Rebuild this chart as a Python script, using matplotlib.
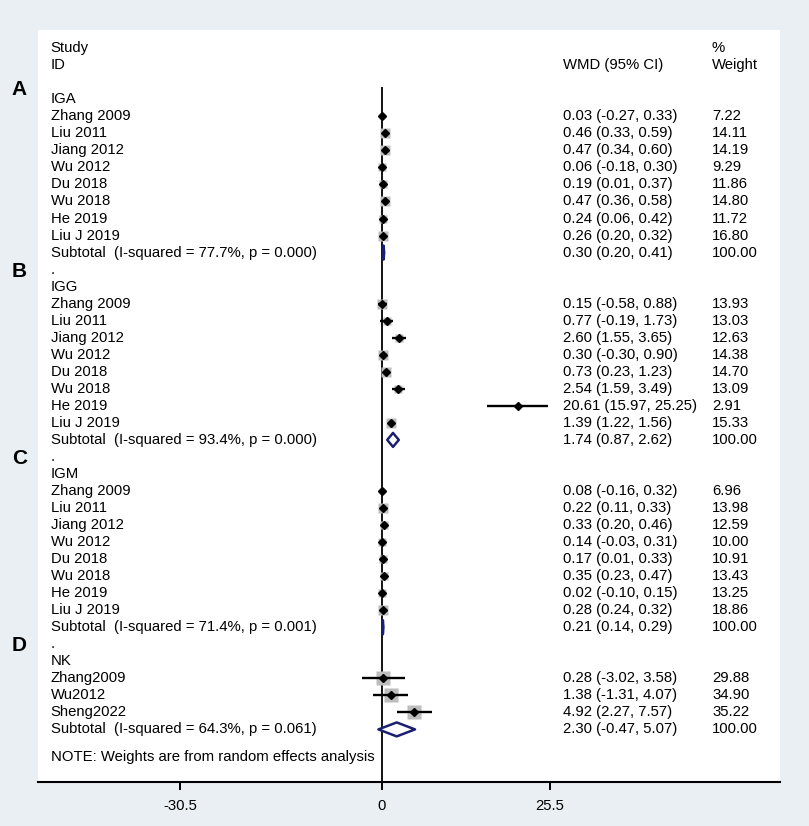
import matplotlib
matplotlib.use("Agg")
import matplotlib.pyplot as plt
from matplotlib.transforms import blended_transform_factory
import numpy as np

plt.rcParams['font.family'] = ['Liberation Sans', 'DejaVu Sans']

# ---- data ----
groups = ["IGA", "IGG", "IGM", "NK"]
panel_letters = ["A", "B", "C", "D"]

iga_studies = ["Zhang 2009", "Liu 2011", "Jiang 2012", "Wu 2012", "Du 2018", "Wu 2018", "He 2019", "Liu J 2019"]
iga_wmd = [0.03, 0.46, 0.47, 0.06, 0.19, 0.47, 0.24, 0.26]
iga_lo = [-0.27, 0.33, 0.34, -0.18, 0.01, 0.36, 0.06, 0.20]
iga_hi = [0.33, 0.59, 0.60, 0.30, 0.37, 0.58, 0.42, 0.32]
iga_weight = [7.22, 14.11, 14.19, 9.29, 11.86, 14.80, 11.72, 16.80]
iga_subtotal = [0.30, 0.20, 0.41]
iga_het = ["77.7%", "0.000"]

igg_studies = ["Zhang 2009", "Liu 2011", "Jiang 2012", "Wu 2012", "Du 2018", "Wu 2018", "He 2019", "Liu J 2019"]
igg_wmd = [0.15, 0.77, 2.60, 0.30, 0.73, 2.54, 20.61, 1.39]
igg_lo = [-0.58, -0.19, 1.55, -0.30, 0.23, 1.59, 15.97, 1.22]
igg_hi = [0.88, 1.73, 3.65, 0.90, 1.23, 3.49, 25.25, 1.56]
igg_weight = [13.93, 13.03, 12.63, 14.38, 14.70, 13.09, 2.91, 15.33]
igg_subtotal = [1.74, 0.87, 2.62]
igg_het = ["93.4%", "0.000"]

igm_studies = ["Zhang 2009", "Liu 2011", "Jiang 2012", "Wu 2012", "Du 2018", "Wu 2018", "He 2019", "Liu J 2019"]
igm_wmd = [0.08, 0.22, 0.33, 0.14, 0.17, 0.35, 0.02, 0.28]
igm_lo = [-0.16, 0.11, 0.20, -0.03, 0.01, 0.23, -0.10, 0.24]
igm_hi = [0.32, 0.33, 0.46, 0.31, 0.33, 0.47, 0.15, 0.32]
igm_weight = [6.96, 13.98, 12.59, 10.00, 10.91, 13.43, 13.25, 18.86]
igm_subtotal = [0.21, 0.14, 0.29]
igm_het = ["71.4%", "0.001"]

nk_studies = ["Zhang2009", "Wu2012", "Sheng2022"]
nk_wmd = [0.28, 1.38, 4.92]
nk_lo = [-3.02, -1.31, 2.27]
nk_hi = [3.58, 4.07, 7.57]
nk_weight = [29.88, 34.90, 35.22]
nk_subtotal = [2.30, -0.47, 5.07]
nk_het = ["64.3%", "0.061"]

x_ticks = [-30.5, 0, 25.5]

group_data = [
    (iga_studies, iga_wmd, iga_lo, iga_hi, iga_weight, iga_subtotal, iga_het),
    (igg_studies, igg_wmd, igg_lo, igg_hi, igg_weight, igg_subtotal, igg_het),
    (igm_studies, igm_wmd, igm_lo, igm_hi, igm_weight, igm_subtotal, igm_het),
    (nk_studies, nk_wmd, nk_lo, nk_hi, nk_weight, nk_subtotal, nk_het),
]

# ---- figure / axes ----
W, H = 809, 826
fig = plt.figure(figsize=(W / 100, H / 100), dpi=100)
fig.patch.set_facecolor('#e9eff3')

left_px, right_px, top_px, bottom_px = 38, 780, 30, 781.5
ax = fig.add_axes([left_px / W, 1 - bottom_px / H,
                   (right_px - left_px) / W, (bottom_px - top_px) / H])
ax.set_facecolor('white')

px_per_unit = 6.61
zero_px = 381.5
ax.set_xlim((left_px - zero_px) / px_per_unit, (right_px - zero_px) / px_per_unit)
row0_px, row_px = 99.3, 17.03
ax.set_ylim((bottom_px - row0_px) / row_px, (top_px - row0_px) / row_px)

for s in ['top', 'left', 'right']:
    ax.spines[s].set_visible(False)
ax.spines['bottom'].set_linewidth(1.5)
ax.set_yticks([])
ax.set_xticks(x_ticks)
ax.set_xticklabels([f"{t:g}" for t in x_ticks])
ax.tick_params(axis='x', direction='out', length=6, width=1.4, pad=6.5, labelsize=10.7)

# text columns (x in axes fraction, y in rows)
tr = blended_transform_factory(ax.transAxes, ax.transData)
tr_fig = blended_transform_factory(fig.transFigure, ax.transData)
col_label = (50.7 - left_px) / (right_px - left_px)
col_wmd = (563 - left_px) / (right_px - left_px)
col_w = (712 - left_px) / (right_px - left_px)
fs = 10.7

ax.text(col_label, -3, "Study", transform=tr, fontsize=fs, va='center')
ax.text(col_label, -2, "ID", transform=tr, fontsize=fs, va='center')
ax.text(col_wmd, -2, "WMD (95% CI)", transform=tr, fontsize=fs, va='center')
ax.text(col_w, -3, "%", transform=tr, fontsize=fs, va='center')
ax.text(col_w, -2, "Weight", transform=tr, fontsize=fs, va='center')

navy = '#1b1f72'
box_grey = '#bdbdbd'
letter_rows = [-0.6, 10.1, 21.1, 32.1]

row = 0
for gi, (name, data) in enumerate(zip(groups, group_data)):
    studies, wmd, lo, hi, weight, sub, het = data
    if gi > 0:
        ax.text(col_label, row, ".", transform=tr, fontsize=fs, va='center')
        row += 1
    ax.text(col_label, row, name, transform=tr, fontsize=fs, va='center')
    row += 1
    for st, m, l, h, w in zip(studies, wmd, lo, hi, weight):
        ax.text(col_label, row, st, transform=tr, fontsize=fs, va='center')
        ax.text(col_wmd, row, f"{m:.2f} ({l:.2f}, {h:.2f})", transform=tr, fontsize=fs, va='center')
        ax.text(col_w, row, f"{w:.2f}", transform=tr, fontsize=fs, va='center')
        ax.plot(m, row, marker='s', ms=1.75 * np.sqrt(w), color=box_grey, mec='none', zorder=2)
        ax.plot([l, h], [row, row], color='black', lw=1.7, zorder=3, solid_capstyle='butt')
        ax.plot(m, row, marker='D', ms=4.4, color='black', zorder=4)
        row += 1
    est, slo, shi = sub
    ax.text(col_label, row, f"Subtotal  (I-squared = {het[0]}, p = {het[1]})",
            transform=tr, fontsize=fs, va='center')
    ax.text(col_wmd, row, f"{est:.2f} ({slo:.2f}, {shi:.2f})", transform=tr, fontsize=fs, va='center')
    ax.text(col_w, row, "100.00", transform=tr, fontsize=fs, va='center')
    hh = 0.41
    ax.fill([slo, est, shi, est], [row, row - hh, row, row + hh],
            facecolor='white', edgecolor=navy, lw=1.8, joinstyle='round', zorder=5)
    row += 1
    ax.text(19.5 / W, letter_rows[gi], panel_letters[gi], transform=tr_fig,
            fontsize=15, fontweight='bold', ha='center', va='center')

ax.text(col_label, 38.6, "NOTE: Weights are from random effects analysis",
        transform=tr, fontsize=fs, va='center')

# null line
ax.vlines(0, -0.74, ax.get_ylim()[0], color='black', lw=1.3, zorder=1)

fig.savefig("out.png", dpi=100, facecolor=fig.get_facecolor())
